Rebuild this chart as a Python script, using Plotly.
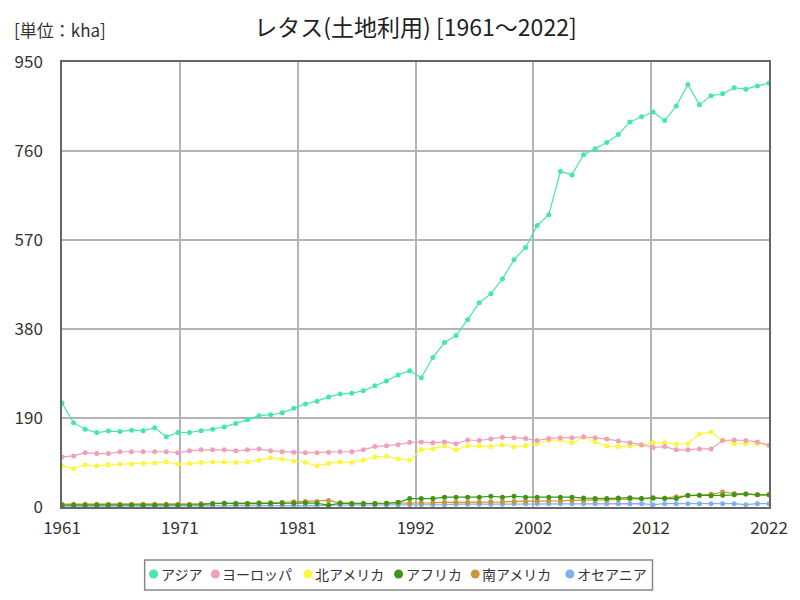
import plotly.graph_objects as go

years = list(range(1961, 2023))

asia = [222, 180, 166, 159, 162, 161, 164, 163, 169, 150,
        159, 159, 163, 166, 171, 178, 186, 195, 197, 201,
        211, 220, 226, 235, 241, 243, 248, 259, 269, 282,
        291, 276, 319, 351, 366, 400, 436, 455, 487, 528,
        554, 601, 624, 716, 709, 752, 765, 778, 795, 822,
        833, 843, 825, 856, 902, 859, 878, 882, 895, 892,
        899, 905]
europe = [107, 109, 116, 114, 114, 118, 118, 118, 118, 118,
          116, 120, 122, 122, 122, 120, 122, 124, 120, 118,
          117, 116, 116, 117, 118, 118, 122, 129, 131, 133,
          138, 139, 137, 139, 135, 143, 142, 145, 149, 148,
          146, 142, 146, 148, 148, 150, 148, 145, 141, 137,
          133, 127, 129, 122, 122, 124, 124, 142, 143, 142,
          139, 132]
north_america = [88, 82, 90, 88, 90, 91, 92, 93, 94, 96,
                 91, 93, 95, 96, 96, 95, 96, 100, 105, 102,
                 98, 95, 88, 93, 96, 95, 100, 107, 108, 103,
                 100, 123, 124, 130, 122, 131, 130, 129, 133, 128,
                 131, 135, 142, 143, 137, 149, 139, 130, 129, 130,
                 132, 137, 137, 134, 135, 156, 160, 142, 135, 135,
                 135, 132]
africa = [4, 4, 4, 4, 4, 4, 4, 4, 4, 4,
          4, 4, 5, 7, 8, 7, 7, 8, 8, 8,
          8, 9, 8, 4, 8, 7, 7, 7, 8, 10,
          18, 18, 18, 21, 21, 21, 21, 23, 21, 23,
          21, 21, 21, 21, 21, 19, 18, 18, 19, 20,
          18, 20, 18, 18, 25, 25, 24, 25, 26, 28,
          26, 26]
south_america = [6, 6, 6, 6, 6, 6, 6, 6, 6, 6,
                 6, 6, 7, 8, 8, 8, 8, 9, 9, 10,
                 11, 12, 12, 14, 9, 8, 8, 8, 8, 8,
                 8, 9, 9, 10, 10, 10, 10, 11, 11, 12,
                 12, 13, 13, 13, 14, 14, 15, 15, 16, 17,
                 18, 18, 19, 22, 24, 25, 27, 32, 29, 28,
                 26, 26]
oceania = [2, 2, 2, 2, 2, 2, 2, 2, 2, 2,
           3, 3, 3, 3, 3, 3, 3, 3, 3, 3,
           3, 3, 3, 4, 4, 4, 4, 4, 4, 4,
           5, 5, 5, 5, 6, 6, 6, 6, 6, 7,
           7, 7, 7, 7, 7, 7, 7, 7, 7, 7,
           7, 5, 7, 7, 7, 7, 7, 7, 7, 5,
           7, 7]

series_names = ["アジア", "ヨーロッパ", "北アメリカ", "アフリカ", "南アメリカ", "オセアニア"]
series_values = [asia, europe, north_america, africa, south_america, oceania]
colors = ["#45e8a8", "#f0a0b8", "#f8f840", "#3c9614", "#c8963c", "#80b0f0"]

y_ticks = [0, 190, 380, 570, 760, 950]
x_tick_pos = [1961 + 61 * k / 6 for k in range(7)]
x_tick_text = [str(int(p + 0.5)) for p in x_tick_pos]

font_main = "Liberation Sans Narrow, Noto Sans CJK JP, sans-serif"

# plot-area geometry (pixels) used to place the custom legend
W, H = 800, 600
ML, MR, MT, MB = 62, 28, 62, 93
PW, PH = W - ML - MR, H - MT - MB


def px(x):
    return (x - ML) / PW


def py(y):
    return (H - MB - y) / PH


fig = go.Figure()
for name, vals, col in reversed(list(zip(series_names, series_values, colors))):
    fig.add_trace(go.Scatter(
        x=years, y=vals, mode="lines+markers", name=name,
        line=dict(color=col, width=1.2),
        marker=dict(color=col, size=5),
        showlegend=False))

# custom legend (markers only, compact like the reference)
legend_marker_x = [154, 216, 309, 400, 477, 572]
legend_y = 574
shapes = [dict(type="rect", xref="paper", yref="paper",
               x0=px(145), x1=px(655), y0=py(560), y1=py(590),
               line=dict(color="#888888", width=1.5), fillcolor="white")]
annotations = []
for name, col, mx in zip(series_names, colors, legend_marker_x):
    shapes.append(dict(type="circle", xref="paper", yref="paper",
                       x0=px(mx - 4.5), x1=px(mx + 4.5),
                       y0=py(legend_y + 4.5), y1=py(legend_y - 4.5),
                       fillcolor=col, line=dict(color=col, width=0)))
    annotations.append(dict(text=name, xref="paper", yref="paper",
                            x=px(mx + 5), y=py(legend_y), xanchor="left",
                            yanchor="middle", showarrow=False,
                            font=dict(size=14, color="#333333",
                                      family="Noto Sans CJK JP")))
annotations.append(dict(text="[単位：kha]", xref="paper", yref="paper",
                        x=px(12), y=py(29), xanchor="left", yanchor="middle",
                        showarrow=False,
                        font=dict(size=17, color="#333333", family=font_main)))

fig.update_layout(
    width=W, height=H,
    paper_bgcolor="white", plot_bgcolor="white",
    margin=dict(l=ML, r=MR, t=MT, b=MB),
    font=dict(family=font_main, size=17, color="#333333"),
    showlegend=False,
    title=dict(text="レタス(土地利用) [1961～2022]", x=0.5, xref="paper",
               y=1 - 28 / H, yref="container", yanchor="middle",
               font=dict(size=23, color="#222222", family=font_main)),
    xaxis=dict(range=[1961, 2022], tickvals=x_tick_pos, ticktext=x_tick_text,
               showgrid=True, gridcolor="#b4b4b4", gridwidth=1.5,
               showline=True, linecolor="#666666", linewidth=1.5, mirror=True,
               ticks="", zeroline=False, ticklabelstandoff=5,
               tickfont=dict(size=17, color="#333333")),
    yaxis=dict(range=[0, 950], tickvals=y_ticks,
               showgrid=True, gridcolor="#b4b4b4", gridwidth=1.5,
               showline=True, linecolor="#666666", linewidth=1.5, mirror=True,
               ticks="", zeroline=False, ticklabelstandoff=14,
               tickfont=dict(size=17, color="#333333")),
    shapes=shapes,
    annotations=annotations,
)

fig.write_html("out.html", config={"displayModeBar": False},
               post_script="document.body.style.margin='0px';")
